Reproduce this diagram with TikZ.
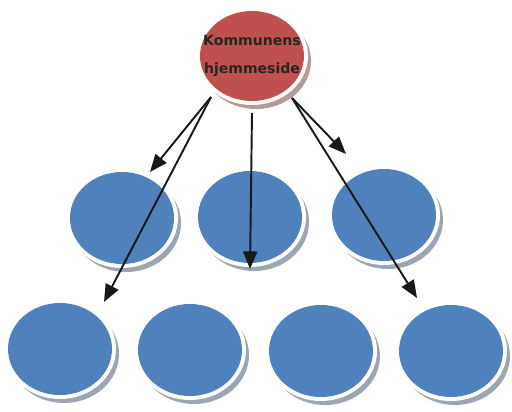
\documentclass[tikz,border=0pt]{standalone}
\usepackage{fontspec}
\setsansfont{DejaVu Sans}
\usetikzlibrary{shapes.geometric}
\usetikzlibrary{arrows.meta}
\usetikzlibrary{calc}
\usetikzlibrary{positioning}

\definecolor{siteRed}{RGB}{192,80,77}
\definecolor{pageBlue}{RGB}{79,129,189}

\begin{document}
\begin{tikzpicture}[x=0.02cm, y=-0.02cm,
    page/.style={ellipse, inner sep=0pt, minimum width=2.08cm, minimum height=1.84cm, fill=pageBlue},
    link/.style={line width=1.1pt, black!90, -{Triangle[length=10pt,width=8pt]}}]
    \useasboundingbox (0,0) rectangle (512,412);
    \fill[siteRed!35!gray!70] (256,61) ellipse [x radius=55, y radius=48];
            \fill[white] (252,56) ellipse [x radius=56, y radius=49];
            \node[page, fill=siteRed, minimum height=1.8cm,
                label={[align=center, text=black!85, font=\sffamily\bfseries\fontsize{8}{16}\selectfont]center:Kommunens\\hjemmeside}] (home) at (252,56) {};
    \foreach \n/\x/\y in {m1/122/218, m2/250/217, m3/384/215, b1/60/349, b2/190/350, b3/321/351, b4/451/351} {
            \fill[pageBlue!30!gray!70] (\x+4,\y+5) ellipse [x radius=55, y radius=49];
            \fill[white] (\x,\y) ellipse [x radius=56, y radius=50];
            \node[page] (\n) at (\x,\y) {};
    }
    \coordinate (sL) at ($(home)+(-41,41)$);
            \coordinate (sM) at ($(home)+(0,57)$);
            \coordinate (sR) at ($(home)+(40,42)$);
            \coordinate (tm1) at ($(m1)+(28,-46)$);
            \coordinate (tb1) at ($(b1)+(44,-47)$);
            \coordinate (tm2) at ($(m2)+(0,52)$);
            \coordinate (tm3) at ($(m3)+(-38,-61)$);
            \coordinate (tb4) at ($(b4)+(-34,-53)$);
    \draw[link] (sL) -- (tm1);
            \draw[link] (sL) -- (tb1);
            \draw[link] (sM) -- (tm2);
            \draw[link] (sR) -- (tm3);
            \draw[link] (sR) -- (tb4);
    \end{tikzpicture}
\end{document}
